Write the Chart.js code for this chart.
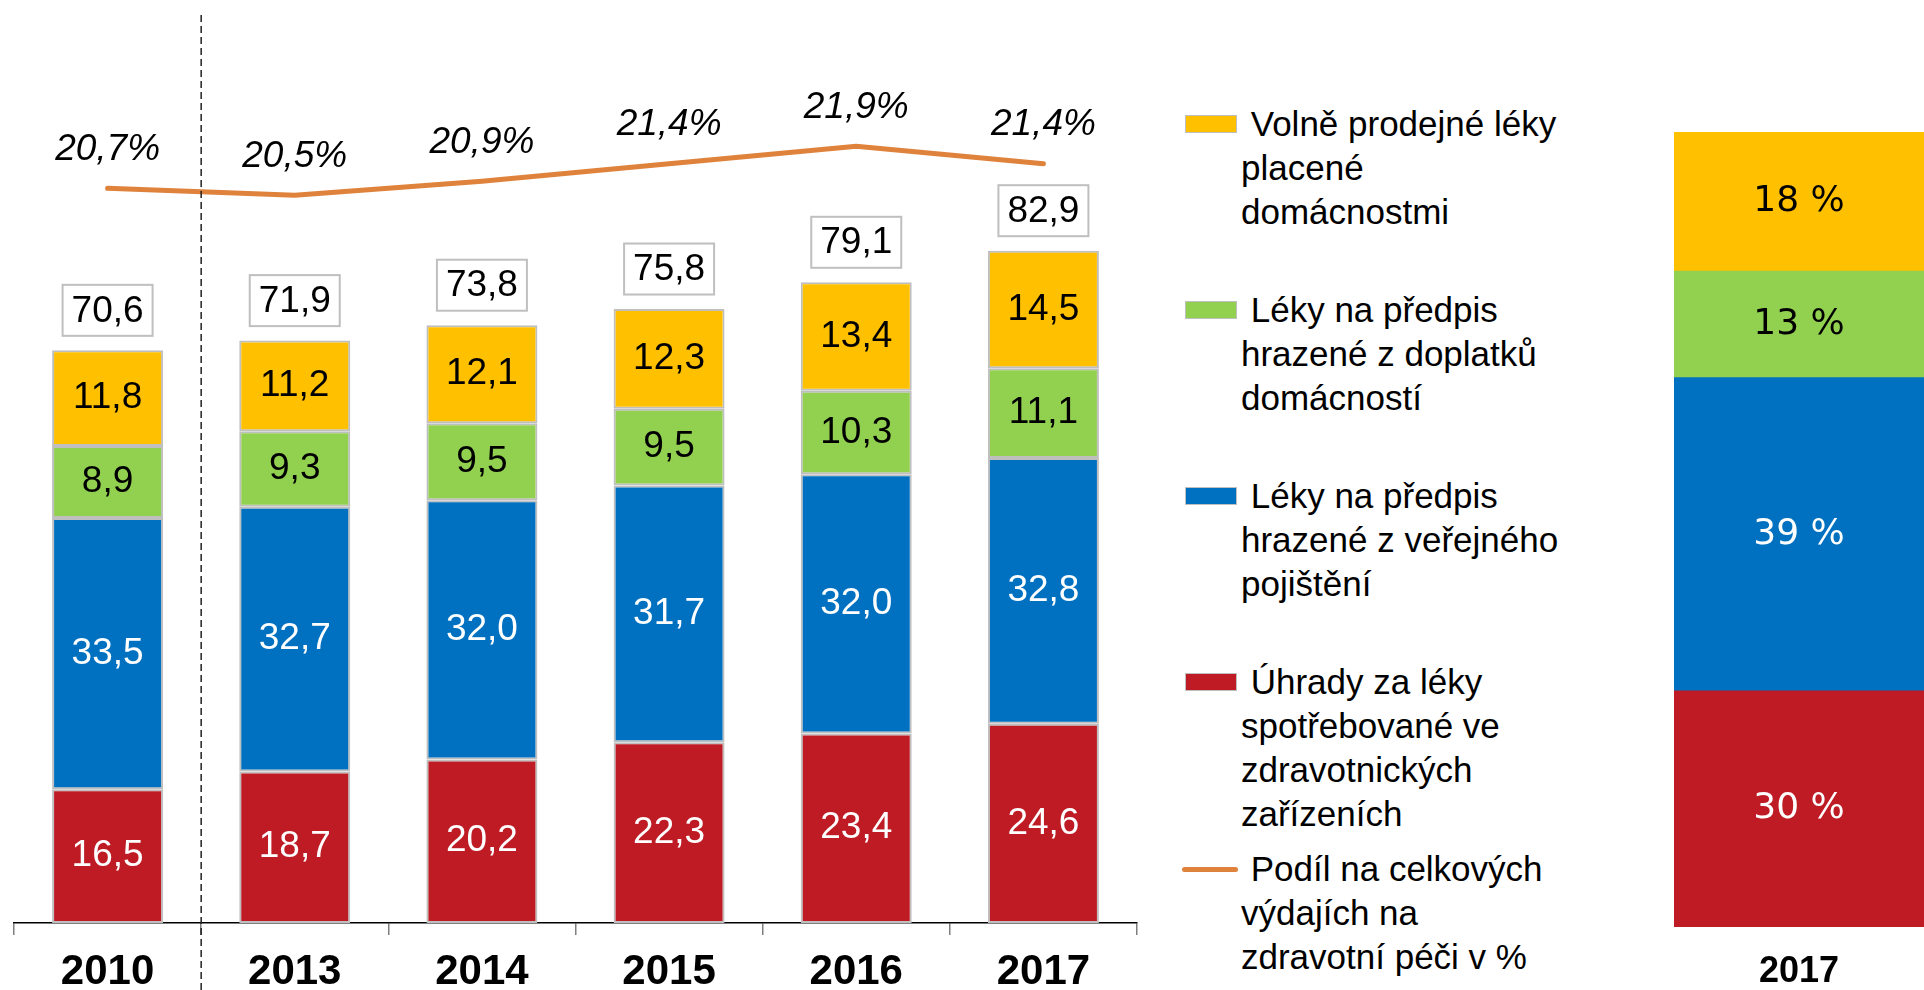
<!DOCTYPE html>
<html lang="cs">
<head>
<meta charset="utf-8">
<title>Výdaje na léky</title>
<script src="https://cdn.jsdelivr.net/npm/chart.js@4/dist/chart.umd.min.js"></script>
<style>
  html, body { margin: 0; padding: 0; background: #fff; }
  body { width: 1924px; height: 990px; overflow: hidden; position: relative; font-family: "Liberation Sans", Arial, sans-serif; }
  #main { position: absolute; left: 0; top: 0; }
  #share { position: absolute; left: 1674px; top: 0; }
  .legend-item { position: absolute; left: 1241px; font-size: 35px; line-height: 44px; color: #000; white-space: pre-line; }
  .legend-item .txt { display: block; }
  .swatch { position: absolute; left: -56px; top: 13px; width: 50px; height: 16px; border: 1px solid #bfbfbf; }
  .swatch.line { border: none; height: 5px; top: 20px; left: -59px; width: 56px; border-radius: 3px; }
</style>
</head>
<body>
<canvas id="main" width="1150" height="1017"></canvas>
<canvas id="share" width="250" height="1028"></canvas>
<div id="legend"></div>

<script>
const d = document;

// data
const years = ['2010', '2013', '2014', '2015', '2016', '2017'];
const uhrady = [16.5, 18.7, 20.2, 22.3, 23.4, 24.6];     // Úhrady za léky ve zdrav. zařízeních
const verejne = [33.5, 32.7, 32.0, 31.7, 32.0, 32.8];    // předpis, veřejné pojištění
const doplatky = [8.9, 9.3, 9.5, 9.5, 10.3, 11.1];       // předpis, doplatky domácností
const volne = [11.8, 11.2, 12.1, 12.3, 13.4, 14.5];      // volně prodejné
const totals = [70.6, 71.9, 73.8, 75.8, 79.1, 82.9];
const podil = [20.7, 20.5, 20.9, 21.4, 21.9, 21.4];      // % z celkových výdajů

// struktura 2017 (%)
const shareYear = ['2017'];
const shareValues = [29.7, 39.4, 13.4, 17.5];
const shareLabels = ['30 %', '39 %', '13 %', '18 %'];

const names = [
  'Úhrady za léky\nspotřebované ve\nzdravotnických\nzařízeních',
  'Léky na předpis\nhrazené z veřejného\npojištění',
  'Léky na předpis\nhrazené z doplatků\ndomácností',
  'Volně prodejné léky\nplacené\ndomácnostmi',
  'Podíl na celkových\nvýdajích na\nzdravotní péči v %'
];
const colors = ['#BE1B24', '#0070C0', '#92D050', '#FFC000'];
const lineColor = '#DF823B';
const FONT = '"Liberation Sans", Arial, sans-serif';

const fmt = v => v.toFixed(1).replace('.', ',');

const barDs = (label, data, i) => ({
  label, data,
  backgroundColor: colors[i],
  borderColor: '#BFBFBF',
  borderWidth: 2,
  borderSkipped: false,
  stack: 's',
  yAxisID: 'y',
  categoryPercentage: 1,
  barPercentage: 0.593,
  order: 1
});

const mainLabels = {
  id: 'mainLabels',
  afterDatasetsDraw(chart) {
    const { ctx } = chart;
    ctx.save();
    ctx.textAlign = 'center';
    ctx.textBaseline = 'middle';
    ctx.font = '37px ' + FONT;
    // hodnoty v segmentech
    for (let i = 0; i < 4; i++) {
      chart.getDatasetMeta(i).data.forEach((bar, j) => {
        ctx.fillStyle = i < 2 ? '#fff' : '#000';
        ctx.fillText(fmt(chart.data.datasets[i].data[j]), bar.x, (bar.y + bar.base) / 2);
      });
    }
    // součty v rámečku
    chart.getDatasetMeta(3).data.forEach((bar, j) => {
      const cy = bar.y - 40;
      ctx.fillStyle = '#fff';
      ctx.fillRect(bar.x - 45, cy - 25.5, 90, 51);
      ctx.strokeStyle = '#BFBFBF';
      ctx.lineWidth = 2;
      ctx.strokeRect(bar.x - 45, cy - 25.5, 90, 51);
      ctx.fillStyle = '#000';
      ctx.fillText(fmt(totals[j]), bar.x, cy + 1);
    });
    // procenta nad čárou
    ctx.font = 'italic 37px ' + FONT;
    chart.getDatasetMeta(4).data.forEach((pt, j) => {
      ctx.fillStyle = '#000';
      ctx.fillText(fmt(podil[j]) + '%', pt.x, pt.y - 39);
    });
    ctx.restore();
  },
  afterDraw(chart) {
    // přerušovaná čára mezi 2010 a 2013
    const { ctx, scales: { x } } = chart;
    const xs = (x.getPixelForValue(0) + x.getPixelForValue(1)) / 2;
    ctx.save();
    ctx.strokeStyle = '#222';
    ctx.lineWidth = 1.5;
    ctx.setLineDash([7, 4]);
    ctx.beginPath();
    ctx.moveTo(xs, 15);
    ctx.lineTo(xs, 1017);
    ctx.stroke();
    ctx.restore();
  }
};

new Chart(d.getElementById('main').getContext('2d'), {
  type: 'bar',
  data: {
    labels: years,
    datasets: [
      barDs(names[0], uhrady, 0),
      barDs(names[1], verejne, 1),
      barDs(names[2], doplatky, 2),
      barDs(names[3], volne, 3),
      {
        type: 'line',
        label: names[4],
        data: podil,
        yAxisID: 'y2',
        borderColor: lineColor,
        borderWidth: 5,
        borderCapStyle: 'round',
        pointRadius: 0,
        tension: 0,
        fill: false,
        order: 0
      }
    ]
  },
  options: {
    responsive: false,
    animation: false,
    devicePixelRatio: 1,
    layout: { padding: { left: 14, right: 13, top: 32, bottom: 8 } },
    plugins: { legend: { display: false }, tooltip: { enabled: false } },
    scales: {
      x: {
        stacked: true,
        offset: true,
        grid: { display: true, offset: true, drawOnChartArea: false, drawTicks: true, tickLength: 12, color: '#7f7f7f', lineWidth: 1.5 },
        border: { display: true, color: '#000', width: 1.5 },
        ticks: { color: '#000', padding: 16, maxRotation: 0, autoSkip: false, font: { family: FONT, size: 42, weight: 'bold', lineHeight: 1 } }
      },
      y: { stacked: true, display: false, min: 0, max: 110 },
      y2: { display: false, min: -0.27, max: 25.16 }
    }
  },
  plugins: [mainLabels]
});

// pravý sloupec – struktura 2017
const shareText = {
  id: 'shareText',
  afterDatasetsDraw(chart) {
    const { ctx } = chart;
    ctx.save();
    ctx.textAlign = 'center';
    ctx.textBaseline = 'middle';
    ctx.font = '36px "DejaVu Sans", sans-serif';
    chart.data.datasets.forEach((ds, i) => {
      const bar = chart.getDatasetMeta(i).data[0];
      ctx.fillStyle = i < 2 ? '#fff' : '#000';
      ctx.fillText(shareLabels[i], bar.x, (bar.y + bar.base) / 2);
    });
    ctx.restore();
  }
};

new Chart(d.getElementById('share').getContext('2d'), {
  type: 'bar',
  data: {
    labels: shareYear,
    datasets: shareValues.map((v, i) => ({
      label: names[i],
      data: [v],
      backgroundColor: colors[i],
      borderWidth: 0,
      stack: 's',
      categoryPercentage: 1,
      barPercentage: 1
    }))
  },
  options: {
    responsive: false,
    animation: false,
    devicePixelRatio: 1,
    layout: { padding: { left: 0, right: 0, top: 132, bottom: 11 } },
    plugins: { legend: { display: false }, tooltip: { enabled: false } },
    scales: {
      x: {
        stacked: true,
        grid: { display: false, drawTicks: false },
        border: { display: false },
        ticks: { color: '#000', padding: 27, font: { family: FONT, size: 36, weight: 'bold', lineHeight: 1 } }
      },
      y: { stacked: true, display: false, min: 0, max: 100 }
    }
  },
  plugins: [shareText]
});

// legenda (vlastní, kvůli zalamování textu)
const $legend = d.getElementById('legend');
const legendOrder = [3, 2, 1, 0, 4];
const legendTops = [102, 288, 474, 660, 847];
legendOrder.forEach((idx, k) => {
  const $item = d.createElement('div');
  $item.className = 'legend-item';
  $item.style.top = legendTops[k] + 'px';
  const $sw = d.createElement('span');
  $sw.className = idx === 4 ? 'swatch line' : 'swatch';
  $sw.style.background = idx === 4 ? lineColor : colors[idx];
  const $txt = d.createElement('span');
  $txt.className = 'txt';
  $txt.textContent = '\u00a0' + names[idx];
  $item.appendChild($sw);
  $item.appendChild($txt);
  $legend.appendChild($item);
});
</script>
</body>
</html>
